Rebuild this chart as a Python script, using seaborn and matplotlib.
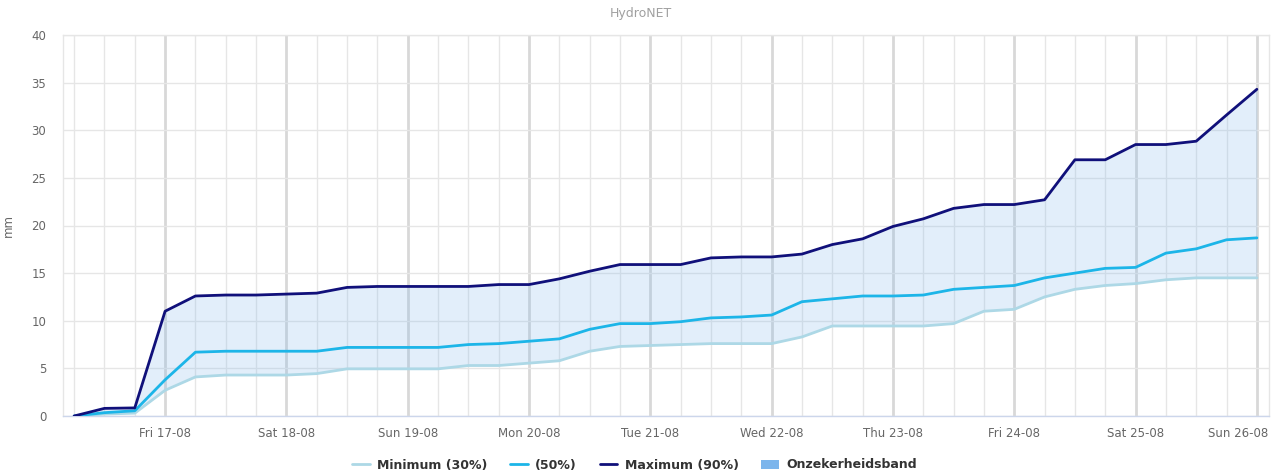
import matplotlib
matplotlib.use("Agg")
import matplotlib.pyplot as plt
import matplotlib.dates as mdates
import matplotlib.transforms as mtransforms
from matplotlib.lines import Line2D
from matplotlib.patches import Patch
import numpy as np
import pandas as pd
import seaborn as sns

# ---- data (6-hourly accumulated precipitation, mm) ----
times = pd.date_range("2018-08-16 06:00", periods=40, freq="6h")

minimum_30 = [0.0, 0.2, 0.3, 2.7, 4.1, 4.3, 4.3, 4.3, 4.45, 4.95, 4.95, 4.95,
              4.95, 5.3, 5.3, 5.55, 5.8, 6.8, 7.3, 7.4, 7.5, 7.6, 7.6, 7.6,
              8.3, 9.45, 9.45, 9.45, 9.45, 9.7, 11.0, 11.2, 12.5, 13.3, 13.7,
              13.9, 14.3, 14.5, 14.5, 14.5]

median_50 = [0.0, 0.35, 0.55, 3.8, 6.7, 6.8, 6.8, 6.8, 6.8, 7.2, 7.2, 7.2,
             7.2, 7.5, 7.6, 7.85, 8.1, 9.1, 9.7, 9.7, 9.9, 10.3, 10.4, 10.6,
             12.0, 12.3, 12.6, 12.6, 12.7, 13.3, 13.5, 13.7, 14.5, 15.0, 15.5,
             15.6, 17.1, 17.55, 18.5, 18.7]

maximum_90 = [0.0, 0.8, 0.85, 11.0, 12.6, 12.7, 12.7, 12.8, 12.9, 13.5, 13.6, 13.6,
              13.6, 13.6, 13.8, 13.8, 14.4, 15.2, 15.9, 15.9, 15.9, 16.6, 16.7, 16.7,
              17.0, 18.0, 18.6, 19.9, 20.7, 21.8, 22.2, 22.2, 22.7, 26.9, 26.9,
              28.5, 28.5, 28.85, 31.6, 34.3]

series_labels = ["Minimum (30%)", "(50%)", "Maximum (90%)", "Onzekerheidsband"]
title = "HydroNET"
y_label = "mm"

# ---- styling ----
c_min = "#add8e6"
c_med = "#1cb5e8"
c_max = "#10107a"
c_band = "#7cb5ec"

sns.set_theme(style="white")
plt.rcParams["font.family"] = ["DejaVu Sans"]

fig = plt.figure(figsize=(12.82, 4.75), dpi=100)
ax = fig.add_axes([63 / 1282, 1 - 416 / 475, (1269 - 63) / 1282, (416 - 35) / 475])

df = pd.DataFrame({"time": times, "min": minimum_30, "med": median_50, "max": maximum_90})

ax.fill_between(df["time"], df["min"], df["max"], color=c_band, alpha=0.22, linewidth=0, zorder=2)
sns.lineplot(data=df, x="time", y="min", ax=ax, color=c_min, linewidth=2, zorder=3)
sns.lineplot(data=df, x="time", y="med", ax=ax, color=c_med, linewidth=2, zorder=4)
sns.lineplot(data=df, x="time", y="max", ax=ax, color=c_max, linewidth=2, zorder=5)

# axes limits
ax.set_ylim(0, 40)
ax.set_yticks(np.arange(0, 41, 5))
ax.set_xlim(times[0] - pd.Timedelta(hours=2.2), times[-1] + pd.Timedelta(hours=2.4))

ax.xaxis.set_major_locator(mdates.DayLocator())
ax.xaxis.set_major_formatter(mdates.DateFormatter("%a %d-%m"))
ax.xaxis.set_minor_locator(mdates.HourLocator(byhour=[6, 12, 18]))

# grids
ax.grid(True, which="major", axis="y", color="#e6e6e6", linewidth=1, zorder=0)
ax.grid(True, which="minor", axis="x", color="#e6e6e6", linewidth=1, zorder=0)
ax.grid(True, which="major", axis="x", color="#d8d8d8", linewidth=2, zorder=0)
ax.set_axisbelow(True)

for side in ["left", "top", "right"]:
    ax.spines[side].set_color("#e6e6e6")
    ax.spines[side].set_linewidth(1)
ax.spines["bottom"].set_color("#ccd6eb")
ax.spines["bottom"].set_linewidth(1)

ax.tick_params(axis="both", which="both", length=0, colors="#666666", labelsize=8.5)
ax.tick_params(axis="x", pad=8)
ax.tick_params(axis="y", pad=12)

ax.set_xlabel("")
ax.set_ylabel(y_label, color="#666666", fontsize=8.5)
ax.yaxis.set_label_coords((15 - 63) / 1206, 0.5)

fig.canvas.draw()
labels = ax.get_xticklabels()
last = labels[-1]
last.set_horizontalalignment("right")
last.set_transform(last.get_transform() + mtransforms.ScaledTranslation(11 / 100, 0, fig.dpi_scale_trans))

fig.text(0.5, 1 - 13 / 475, title, ha="center", va="center", color="#a0a0a0", fontsize=9)

handles = [
    Line2D([0], [0], color=c_min, linewidth=2),
    Line2D([0], [0], color=c_med, linewidth=2),
    Line2D([0], [0], color=c_max, linewidth=2),
    Patch(facecolor=c_band, edgecolor="none"),
]
leg = fig.legend(handles, series_labels, loc="center", bbox_to_anchor=(0.495, 1 - 465 / 475),
                 ncol=4, frameon=False, handlelength=1.4, handletextpad=0.6, columnspacing=1.8,
                 prop={"weight": "bold", "size": 9})
for t in leg.get_texts():
    t.set_color("#333333")

fig.savefig("out.png", dpi=100, facecolor="white")
